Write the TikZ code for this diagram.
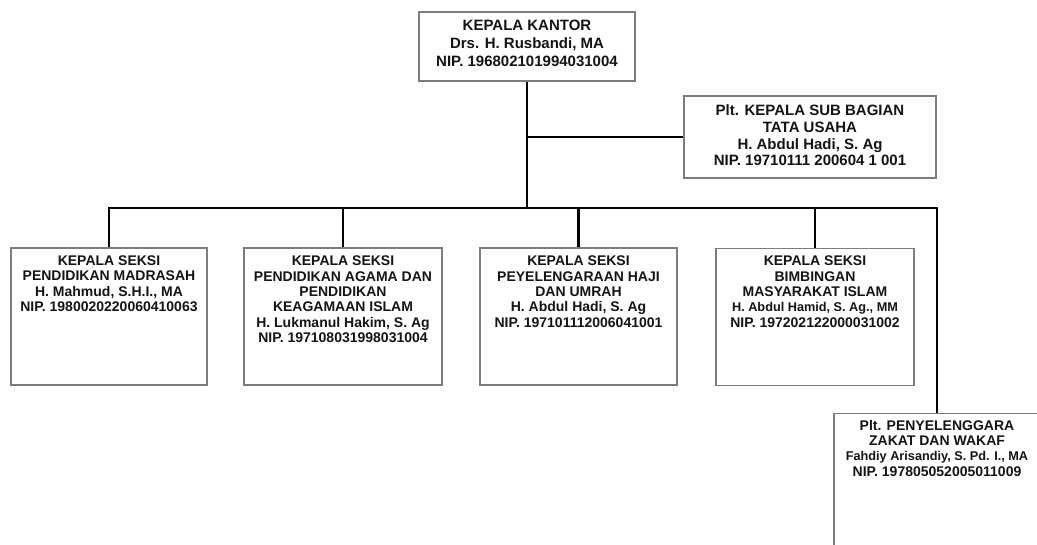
\documentclass[tikz,border=0pt]{standalone}
\usepackage{fontspec}
\setmainfont{Liberation Sans}
\definecolor{boxgray}{RGB}{125,125,125}
\definecolor{textc}{RGB}{20,20,20}
\begin{document}
\begin{tikzpicture}[x=1pt,y=-1pt,
  box/.style={draw=boxgray,line width=1.1pt,inner sep=0pt,minimum width=197pt,minimum height=137pt},
  conn/.style={draw=black,line width=2.9pt},
  txt/.style={inner sep=0pt,align=center,anchor=north,text=textc,font=\bfseries\fontsize{14}{15.3}\selectfont}]
\useasboundingbox (0,0) rectangle (1037,544);
\fill[white] (0,0) rectangle (1037,544);
\clip (0,0) rectangle (1037,544);

% boxes
\node[box,minimum width=216pt,minimum height=69pt] (top) at (527,46.5) {};
\node[box,minimum width=252pt,minimum height=82pt] (sub) at (810,137) {};
\node[box,minimum width=196pt] (b1) at (109,316.5) {};
\node[box,minimum width=198pt] (b2) at (343,316.5) {};
\node[box] (b3) at (578.5,316.5) {};
\node[box,minimum width=198pt] (b4) at (815,317) {};
\node[box,minimum width=206pt,minimum height=200pt,anchor=north] (zk) at (937,413) {};

% texts
\node[txt,font=\bfseries\fontsize{15}{18}\selectfont] (ttop) at (527,19.5)
  {KEPALA KANTOR\\Drs. H. Rusbandi, MA\\NIP. 196802101994031004};
\node[txt,font=\bfseries\fontsize{15}{16.7}\selectfont] (tsub) at (810,104.6)
  {Plt. KEPALA SUB BAGIAN\\TATA USAHA\\H. Abdul Hadi, S. Ag\\NIP. 19710111 200604 1 001};
\node[txt] (tb1) at (109,255.5)
  {KEPALA SEKSI\\PENDIDIKAN MADRASAH\\H. Mahmud, S.H.I., MA\\NIP. 1980020220060410063};
\node[txt] (tb2) at (343,256)
  {KEPALA SEKSI\\PENDIDIKAN AGAMA DAN\\PENDIDIKAN\\KEAGAMAAN ISLAM\\H. Lukmanul Hakim, S. Ag\\NIP. 197108031998031004};
\node[txt] (tb3) at (578.5,256)
  {KEPALA SEKSI\\PEYELENGARAAN HAJI\\DAN UMRAH\\H. Abdul Hadi, S. Ag\\NIP. 197101112006041001};
\node[txt] (tb4) at (815,256)
  {KEPALA SEKSI\\BIMBINGAN\\MASYARAKAT ISLAM\\{\fontsize{12.7}{15.3}\selectfont H. Abdul Hamid, S. Ag., MM}\\NIP. 197202122000031002};
\node[txt] (tzk) at (937,420)
  {Plt. PENYELENGGARA\\ZAKAT DAN WAKAF\\{\fontsize{12.7}{15.3}\selectfont Fahdiy Arisandiy, S. Pd. I., MA}\\NIP. 197805052005011009};

% connectors
\coordinate (barR) at (937,208);
\draw[conn] (b1.north) |- (barR) -- (zk.north);
\draw[conn] (top.south) -- (top.south |- barR);
\draw[conn] (top.south |- sub.west) -- (sub.west);
\foreach \b in {b2,b3,b4} \draw[conn] (\b.north) -- (\b.north |- barR);
\end{tikzpicture}
\end{document}
